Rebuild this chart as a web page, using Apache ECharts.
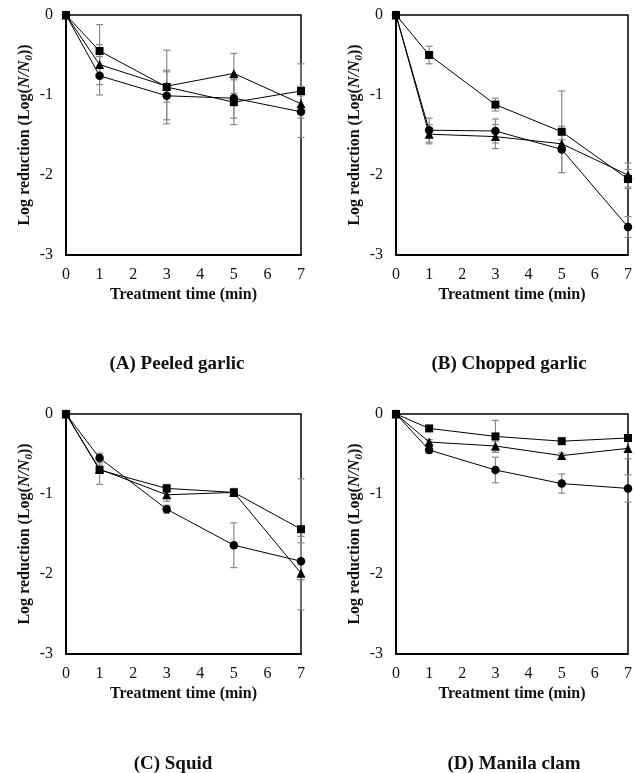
<!DOCTYPE html>
<html>
<head>
<meta charset="utf-8">
<script src="https://cdn.jsdelivr.net/npm/echarts@6/dist/echarts.min.js"></script>
<style>
html,body{margin:0;padding:0;background:#fff;}
#chart{width:635px;height:773px;}
</style>
</head>
<body>
<div id="chart"></div>
<script>
// ---- data ----
const times = [0, 1, 3, 5, 7];
const xTicks = [0, 1, 2, 3, 4, 5, 6, 7];
const yTicks = [0, -1, -2, -3];

const panelLabels = ['(A) Peeled garlic', '(B) Chopped garlic', '(C) Squid', '(D) Manila clam'];

// Panel A: Peeled garlic
const aSquare = [0, -0.45, -0.90, -1.09, -0.95];
const aSquareErr = [0, 0.33, 0.46, 0.28, 0.34];
const aCircle = [0, -0.76, -1.01, -1.04, -1.21];
const aCircleErr = [0, 0.24, 0.30, 0.25, 0.32];
const aTriangle = [0, -0.62, -0.89, -0.73, -1.11];
const aTriangleErr = [0, 0.25, 0.20, 0.25, 0.10];

// Panel B: Chopped garlic
const bSquare = [0, -0.50, -1.12, -1.46, -2.05];
const bSquareErr = [0, 0.11, 0.08, 0.51, 0.12];
const bCircle = [0, -1.44, -1.45, -1.68, -2.65];
const bCircleErr = [0, 0.15, 0.15, 0.29, 0.13];
const bTriangle = [0, -1.49, -1.52, -1.61, -2.00];
const bTriangleErr = [0, 0.12, 0.15, 0.05, 0.15];

// Panel C: Squid
const cSquare = [0, -0.70, -0.93, -0.98, -1.44];
const cSquareErr = [0, 0.18, 0.05, 0.05, 0.63];
const cCircle = [0, -0.55, -1.19, -1.64, -1.84];
const cCircleErr = [0, 0.06, 0.05, 0.28, 0.23];
const cTriangle = [0, -0.69, -1.01, -0.98, -1.99];
const cTriangleErr = [0, 0.05, 0.08, 0.04, 0.46];

// Panel D: Manila clam
const dSquare = [0, -0.18, -0.28, -0.34, -0.30];
const dSquareErr = [0, 0.03, 0.20, 0.04, 0.03];
const dCircle = [0, -0.45, -0.70, -0.87, -0.93];
const dCircleErr = [0, 0.04, 0.16, 0.12, 0.17];
const dTriangle = [0, -0.35, -0.40, -0.52, -0.43];
const dTriangleErr = [0, 0.03, 0.06, 0.03, 0.13];

// ---- layout ----
const FONT = '"Liberation Serif", "Times New Roman", serif';
const TXT = '#111';
const grids = [
  {left: 66, top: 15, width: 235, height: 240},
  {left: 396, top: 15, width: 235, height: 240},
  {left: 66, top: 414, width: 235, height: 240},
  {left: 396, top: 414, width: 235, height: 240}
];
const labelPos = [[177, 364], [509, 364], [173, 764], [514, 764]];

const panels = [
  [[aSquare, aSquareErr, 'rect'], [aCircle, aCircleErr, 'circle'], [aTriangle, aTriangleErr, 'triangle']],
  [[bSquare, bSquareErr, 'rect'], [bCircle, bCircleErr, 'circle'], [bTriangle, bTriangleErr, 'triangle']],
  [[cSquare, cSquareErr, 'rect'], [cCircle, cCircleErr, 'circle'], [cTriangle, cTriangleErr, 'triangle']],
  [[dSquare, dSquareErr, 'rect'], [dCircle, dCircleErr, 'circle'], [dTriangle, dTriangleErr, 'triangle']]
];

const symSize = {rect: 8, circle: 8.5, triangle: 9};

const xAxes = [], yAxes = [], series = [];
grids.forEach((g, gi) => {
  g.show = true;
  g.borderColor = '#000';
  g.borderWidth = 1.5;
  g.containLabel = false;
  xAxes.push({
    gridIndex: gi, type: 'value', min: 0, max: 7, interval: 1,
    axisLine: {show: true, onZero: false, lineStyle: {color: '#000', width: 2}},
    axisTick: {show: false},
    splitLine: {show: false},
    axisLabel: {color: TXT, fontFamily: FONT, fontSize: 16, margin: 12},
    name: 'Treatment time (min)', nameLocation: 'middle', nameGap: 32,
    nameTextStyle: {color: TXT, fontFamily: FONT, fontSize: 16, fontWeight: 'bold'}
  });
  yAxes.push({
    gridIndex: gi, type: 'value', min: -3, max: 0, interval: 1,
    axisLine: {show: true, onZero: false, lineStyle: {color: '#000', width: 2}},
    axisTick: {show: false},
    splitLine: {show: false},
    axisLabel: {color: TXT, fontFamily: FONT, fontSize: 16, margin: 13},
    name: 'Log reduction (Log({i|N/N}{s|0}))', nameLocation: 'middle', nameGap: 31,
    nameTextStyle: {
      color: TXT, fontFamily: FONT, fontSize: 16, fontWeight: 'bold',
      rich: {
        i: {fontFamily: FONT, fontSize: 16, fontWeight: 'bold', fontStyle: 'italic', color: TXT},
        s: {fontFamily: FONT, fontSize: 11, fontWeight: 'bold', fontStyle: 'italic', color: TXT, verticalAlign: 'bottom', padding: [10, 0, 0, 0]}
      }
    }
  });
  panels[gi].forEach(([vals, errs, sym]) => {
    series.push({
      type: 'custom', xAxisIndex: gi, yAxisIndex: gi, z: 1, silent: true,
      data: times.map((t, i) => [t, vals[i], errs[i]]).filter(d => d[2] > 0),
      renderItem: function (params, api) {
        const x = api.value(0), y = api.value(1), e = api.value(2);
        const top = api.coord([x, y + e]);
        const bot = api.coord([x, y - e]);
        const w = 3.5;
        const st = {stroke: '#8a8a8a', lineWidth: 1.2};
        return {type: 'group', children: [
          {type: 'line', shape: {x1: top[0], y1: top[1], x2: bot[0], y2: bot[1]}, style: st},
          {type: 'line', shape: {x1: top[0] - w, y1: top[1], x2: top[0] + w, y2: top[1]}, style: st},
          {type: 'line', shape: {x1: bot[0] - w, y1: bot[1], x2: bot[0] + w, y2: bot[1]}, style: st}
        ]};
      }
    });
    series.push({
      type: 'line', xAxisIndex: gi, yAxisIndex: gi, z: 3,
      data: times.map((t, i) => [t, vals[i]]),
      symbol: sym, symbolSize: symSize[sym],
      lineStyle: {color: '#000', width: 1},
      itemStyle: {color: '#000', borderColor: '#000', borderWidth: 0},
      emphasis: {disabled: true}, animation: false
    });
  });
});

const chart = echarts.init(document.getElementById('chart'), null, {renderer: 'canvas'});
chart.setOption({
  animation: false,
  backgroundColor: '#fff',
  grid: grids,
  xAxis: xAxes,
  yAxis: yAxes,
  series: series,
  graphic: panelLabels.map((txt, i) => ({
    type: 'text', x: labelPos[i][0], y: labelPos[i][1],
    style: {text: txt, font: 'bold 19px ' + FONT, fill: TXT, textAlign: 'center', textVerticalAlign: 'middle'}
  }))
});
</script>
</body>
</html>
